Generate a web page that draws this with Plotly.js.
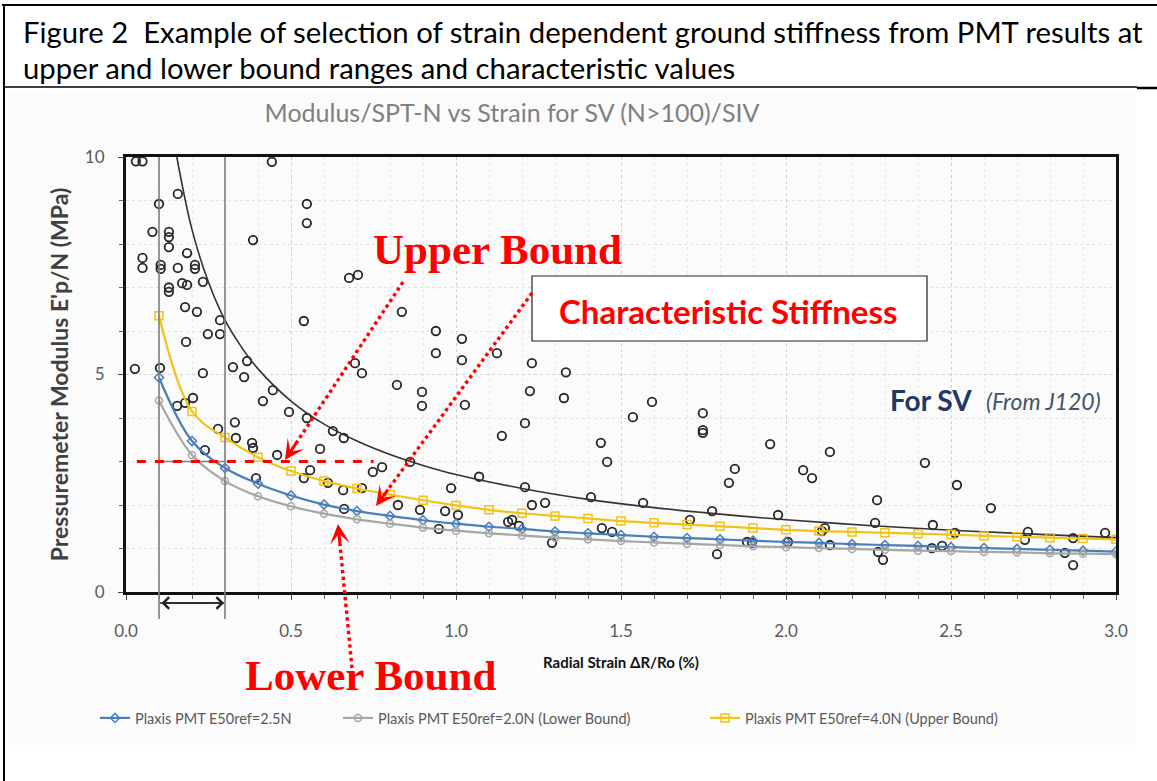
<!DOCTYPE html>
<html><head><meta charset="utf-8">
<script src="https://cdn.plot.ly/plotly-3.0.1.min.js"></script>
<style>html,body{margin:0;padding:0;background:#fff}#chart{width:1157px;height:781px}</style>
</head><body><div id="chart"></div>
<script>
// ---- Data ----
// PMT test results (open black circles)
const pmtStrain = [0.03,0.05,0.10,0.08,0.13,0.13,0.13,0.185,0.05,0.05,0.105,0.105,0.157,0.209,0.209,0.233,0.17,0.185,0.13,0.13,0.157,0.179,0.215,0.285,0.248,0.285,0.182,0.367,0.324,0.027,0.103,0.442,0.548,0.548,0.385,0.676,0.703,0.836,0.539,0.939,0.939,1.018,1.018,1.124,1.23,1.333,0.233,0.358,0.445,0.415,0.155,0.203,0.179,0.494,0.548,0.694,0.715,0.821,0.897,0.897,0.33,0.279,0.333,0.627,0.66,0.382,0.385,0.588,0.458,0.861,0.239,0.558,0.539,0.748,0.776,0.394,0.612,0.658,0.715,0.824,0.967,0.891,0.661,0.948,1.027,1.224,1.327,1.209,1.139,1.536,1.594,1.439,1.458,1.748,1.748,1.748,1.952,1.845,1.827,1.07,1.209,0.985,1.409,1.567,1.776,1.976,1.23,1.27,1.006,1.158,1.17,1.191,1.442,1.473,1.709,1.291,1.882,1.897,2.006,1.791,2.133,2.052,2.079,2.421,2.518,2.276,2.621,2.27,2.445,2.118,2.109,2.512,2.733,2.724,2.87,2.967,2.133,2.442,2.473,2.279,2.294,2.845,2.87];
const pmtModulus = [9.9,9.9,8.92,8.28,8.28,8.16,7.93,7.79,7.68,7.45,7.52,7.43,7.45,7.52,7.43,7.13,7.1,7.06,7.0,6.9,9.15,6.55,6.44,6.25,5.93,5.93,5.75,5.31,5.17,5.13,5.15,9.89,8.92,8.48,8.09,7.22,7.29,6.44,6.23,6.0,5.49,5.82,5.33,5.49,5.26,5.05,5.03,4.94,4.64,4.39,4.28,4.46,4.35,4.14,4.0,5.26,5.03,4.76,4.6,4.28,3.9,3.75,3.54,3.7,3.54,3.43,3.31,3.29,3.15,2.99,3.26,2.8,2.62,2.76,2.87,2.62,2.51,2.34,2.39,2.0,1.86,1.89,1.91,1.45,4.3,4.62,4.46,3.88,3.59,4.02,4.37,3.43,2.99,4.11,3.72,3.66,3.4,2.83,2.51,2.65,2.41,2.39,2.18,2.05,1.86,1.77,2.0,2.05,1.77,1.61,1.66,1.52,1.47,1.38,1.66,1.13,1.15,1.13,1.15,0.87,3.22,2.8,2.62,2.97,2.46,2.11,1.93,1.59,1.54,1.47,1.4,1.36,1.38,1.2,1.24,1.36,1.08,1.01,1.06,0.92,0.74,0.9,0.62];

// Black fitted curve through the PMT results
const trendStrain  = [0.154,0.2,0.25,0.3,0.35,0.4,0.5,0.6,0.7,0.8,0.9,1.0,1.2,1.4,1.6,1.8,2.0,2.25,2.5,2.75,3.0];
const trendModulus = [10.0,8.33,7.12,6.25,5.63,5.13,4.39,3.86,3.47,3.16,2.91,2.70,2.38,2.13,1.94,1.79,1.66,1.53,1.42,1.33,1.25];

// Plaxis PMT curves (markers every 0.1 % strain)
const plaxisStrain = [0.1,0.2,0.3,0.4,0.5,0.6,0.7,0.8,0.9,1.0,1.1,1.2,1.3,1.4,1.5,1.6,1.7,1.8,1.9,2.0,2.1,2.2,2.3,2.4,2.5,2.6,2.7,2.8,2.9,3.0];
const plaxis25N = [4.93,3.47,2.85,2.49,2.22,2.01,1.86,1.75,1.65,1.57,1.50,1.45,1.39,1.35,1.31,1.27,1.24,1.21,1.18,1.15,1.13,1.10,1.08,1.06,1.03,1.01,0.99,0.97,0.95,0.93];
const plaxis20N = [4.40,3.15,2.55,2.20,1.97,1.80,1.67,1.57,1.48,1.41,1.35,1.30,1.25,1.21,1.17,1.14,1.11,1.08,1.05,1.03,1.01,0.99,0.97,0.95,0.94,0.92,0.91,0.89,0.88,0.87];
const plaxis40N = [6.35,4.15,3.55,3.10,2.78,2.55,2.38,2.24,2.11,1.99,1.89,1.81,1.75,1.69,1.63,1.59,1.55,1.51,1.47,1.43,1.40,1.38,1.36,1.34,1.32,1.29,1.27,1.25,1.23,1.21];

const seriesNames = ["Plaxis PMT E50ref=2.5N","Plaxis PMT E50ref=2.0N (Lower Bound)","Plaxis PMT E50ref=4.0N (Upper Bound)"];
const xTickVals = [0,0.5,1.0,1.5,2.0,2.5,3.0];
const yTickVals = [0,5,10];
const characteristicLevel = 3;

// ---- Layout helpers (pixel -> paper) ----
const L=126, R=41, T=157, B=189, PW=990, PH=435;
const px = v => (v - L) / PW;
const py = v => (T + PH - v) / PH;
const FONT = "Lato, 'Open Sans', sans-serif";
const RED = "#ff0000";

const traces = [
  {x: pmtStrain, y: pmtModulus, mode: "markers", type: "scatter", showlegend: false, hoverinfo: "x+y",
   marker: {symbol: "circle-open", size: 8.5, color: "#262626", line: {width: 1.8, color: "#262626"}}},
  {x: trendStrain, y: trendModulus, mode: "lines", type: "scatter", showlegend: false,
   line: {color: "#333333", width: 1.6, shape: "spline"}},
  {x: plaxisStrain, y: plaxis25N, name: seriesNames[0], mode: "lines+markers", type: "scatter", legend: "legend",
   line: {color: "#4a7ebb", width: 2.2, shape: "spline"},
   marker: {symbol: "diamond-open", size: 7, color: "#4a7ebb", line: {width: 1.5}}},
  {x: plaxisStrain, y: plaxis20N, name: seriesNames[1], mode: "lines+markers", type: "scatter", legend: "legend2",
   line: {color: "#a6a6a6", width: 2.2, shape: "spline"},
   marker: {symbol: "circle-open", size: 7, color: "#a6a6a6", line: {width: 1.5}}},
  {x: plaxisStrain, y: plaxis40N, name: seriesNames[2], mode: "lines+markers", type: "scatter", legend: "legend3",
   line: {color: "#f2c314", width: 2.2, shape: "spline"},
   marker: {symbol: "square-open", size: 8, color: "#f2c314", line: {width: 1.5}}}
];

function redArrow(x0, y0, tipX, tipY, len) {
  const dx = x0 - tipX, dy = y0 - tipY, d = Math.hypot(dx, dy);
  const ux = dx / d, uy = dy / d;
  return {
    shape: {type: "line", xref: "paper", yref: "paper", x0: px(x0), y0: py(y0),
            x1: px(tipX + ux * (len - 2)), y1: py(tipY + uy * (len - 2)),
            line: {color: RED, width: 3.4, dash: "dot"}},
    head: {xref: "paper", yref: "paper", x: px(tipX), y: py(tipY), ax: ux * len, ay: uy * len,
           text: "", showarrow: true, arrowhead: 3, arrowsize: 1.1, arrowwidth: 3, arrowcolor: RED}
  };
}
const aUpper = redArrow(403, 282, 285, 460, 22);
const aChar  = redArrow(532, 293, 376, 506, 22);
const aLower = redArrow(352, 668, 338, 524, 22);

const shapes = [
  {type: "rect", xref: "paper", yref: "paper", layer: "below", x0: px(8), x1: px(1135), y0: py(92), y1: py(745),
   fillcolor: "#fbfbfb", line: {width: 0}},
  {type: "line", xref: "paper", yref: "paper", x0: px(2), x1: px(1157), y0: py(5), y1: py(5), line: {color: "#000", width: 2}},
  {type: "line", xref: "paper", yref: "paper", x0: px(4), x1: px(4), y0: py(4), y1: py(781), line: {color: "#000", width: 2}},
  {type: "line", xref: "paper", yref: "paper", x0: px(4), x1: px(1137), y0: py(87), y1: py(87), line: {color: "#000", width: 1.5}},
  {type: "line", xref: "paper", yref: "paper", x0: px(1137), x1: px(1157), y0: py(88), y1: py(88), line: {color: "#000", width: 2.5}},
  {type: "line", xref: "paper", yref: "paper", x0: px(159), x1: px(159), y0: py(619), y1: 1, line: {color: "#7f7f7f", width: 1.6}},
  {type: "line", xref: "paper", yref: "paper", x0: px(225), x1: px(225), y0: py(619), y1: 1, line: {color: "#7f7f7f", width: 1.6}},
  {type: "line", xref: "x", yref: "y", x0: 0.1, x1: 0.3, y0: characteristicLevel, y1: characteristicLevel, line: {color: "#7f7f7f", width: 1.6}},
  {type: "line", xref: "x", yref: "y", x0: 0.033, x1: 0.75, y0: characteristicLevel, y1: characteristicLevel, line: {color: RED, width: 3, dash: "dash"}},
  {type: "line", xref: "paper", yref: "paper", x0: px(160), x1: px(224), y0: py(603), y1: py(603), line: {color: "#222", width: 1.6}},
  {type: "rect", xref: "paper", yref: "paper", x0: px(532), x1: px(927), y0: py(276), y1: py(341), fillcolor: "#ffffff", line: {color: "#222", width: 1.2}},
  aUpper.shape, aChar.shape, aLower.shape
];

const annotations = [
  {xref: "paper", yref: "paper", x: px(21), y: py(31), xanchor: "left", yanchor: "middle", showarrow: false,
   text: "Figure 2\u00a0 Example of selection of strain dependent ground stiffness from PMT results at",
   font: {family: FONT, size: 29.3, color: "#000"}},
  {xref: "paper", yref: "paper", x: px(21), y: py(67), xanchor: "left", yanchor: "middle", showarrow: false,
   text: "upper and lower bound ranges and characteristic values",
   font: {family: FONT, size: 29.3, color: "#000"}},
  {xref: "paper", yref: "paper", x: px(497), y: py(249), xanchor: "center", yanchor: "middle", showarrow: false,
   text: "<b>Upper Bound</b>", font: {family: "'Liberation Serif', 'DejaVu Serif', serif", size: 43, color: RED}},
  {xref: "paper", yref: "paper", x: px(370), y: py(675), xanchor: "center", yanchor: "middle", showarrow: false,
   text: "<b>Lower Bound</b>", font: {family: "'Liberation Serif', 'DejaVu Serif', serif", size: 43, color: RED}},
  {xref: "paper", yref: "paper", x: px(728), y: py(311), xanchor: "center", yanchor: "middle", showarrow: false,
   text: "<b>Characteristic Stiffness</b>", font: {family: FONT, size: 33, color: RED}},
  {xref: "paper", yref: "paper", x: px(974), y: py(400), xanchor: "right", yanchor: "middle", showarrow: false,
   text: "<b>For SV</b>", font: {family: FONT, size: 28, color: "#1f3864"}},
  {xref: "paper", yref: "paper", x: px(1103), y: py(401), xanchor: "right", yanchor: "middle", showarrow: false,
   text: "<i>(From J120)</i>", font: {family: FONT, size: 23, color: "#44546a"}},
  {xref: "paper", yref: "paper", x: px(224), y: py(603), ax: -64, ay: 0, text: "", showarrow: true,
   arrowside: "end+start", arrowhead: 4, startarrowhead: 4, arrowsize: 1.4, startarrowsize: 1.4, arrowwidth: 1.6, arrowcolor: "#222"},
  aUpper.head, aChar.head, aLower.head
];

const legendStyle = (xPix) => ({orientation: "h", x: px(xPix), xanchor: "left", y: py(718), yanchor: "middle",
  font: {family: FONT, size: 14.5, color: "#595959"}, bgcolor: "rgba(0,0,0,0)", itemwidth: 30});

const layout = {
  width: 1157, height: 781,
  margin: {l: L, r: R, t: T, b: B, pad: 0},
  paper_bgcolor: "#ffffff", plot_bgcolor: "rgba(0,0,0,0)",
  font: {family: FONT, color: "#595959"},
  title: {text: "Modulus/SPT-N vs Strain for SV (N>100)/SIV", font: {family: FONT, size: 25, color: "#808080"},
          xref: "paper", x: px(512), xanchor: "center", yref: "container", y: 1 - 113 / 781, yanchor: "middle"},
  xaxis: {range: [0, 3], tickvals: xTickVals, tickformat: ".1f", showgrid: true, gridcolor: "#cfcfcf", griddash: "dot", gridwidth: 1,
          zeroline: false, showline: true, mirror: true, linecolor: "#111", linewidth: 3,
          ticks: "outside", ticklen: 5, tickcolor: "#444", ticklabelstandoff: 17,
          minor: {dtick: 0.1, showgrid: true, gridcolor: "#e6e6e6", ticks: "outside", ticklen: 4, tickcolor: "#666"},
          tickfont: {family: FONT, size: 17, color: "#595959"},
          title: {text: "<b>Radial Strain ΔR/Ro (%)</b>", font: {family: FONT, size: 15, color: "#111"}, standoff: 18},
          automargin: false, fixedrange: true},
  yaxis: {range: [0, 10], tickvals: yTickVals, showgrid: true, gridcolor: "#d4d4d4", griddash: "dot", gridwidth: 1,
          zeroline: false, showline: true, mirror: true, linecolor: "#111", linewidth: 3,
          ticks: "outside", ticklen: 5, tickcolor: "#444", ticklabelstandoff: 10,
          minor: {dtick: 1, showgrid: true, gridcolor: "#e2e2e2", ticks: "outside", ticklen: 4, tickcolor: "#666"},
          tickfont: {family: FONT, size: 17, color: "#595959"},
          title: {text: "<b>Pressuremeter Modulus E'p/N (MPa)</b>", font: {family: FONT, size: 23, color: "#404040"}, standoff: 10},
          automargin: false, fixedrange: true},
  legend: legendStyle(95),
  legend2: legendStyle(338),
  legend3: legendStyle(705),
  shapes: shapes,
  annotations: annotations
};

Plotly.newPlot("chart", traces, layout, {displayModeBar: false, staticPlot: true});
</script></body></html>
